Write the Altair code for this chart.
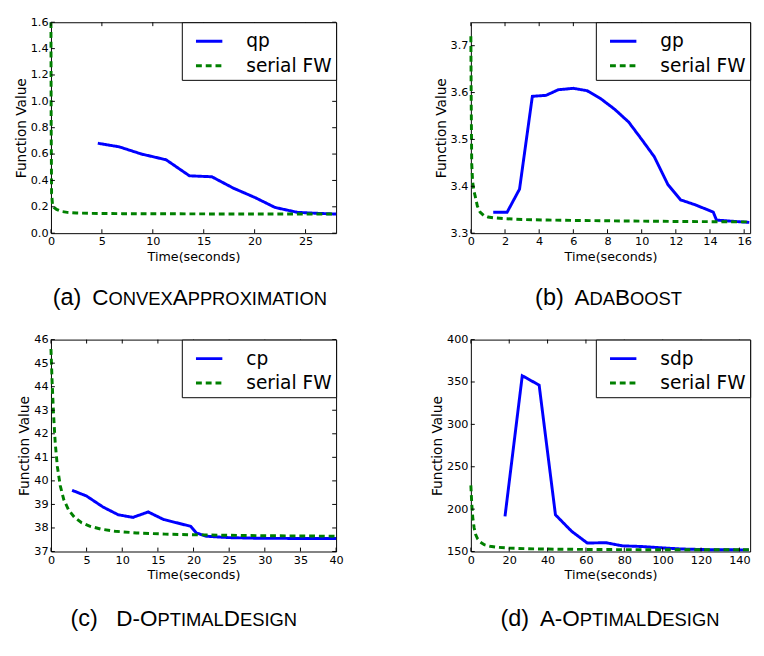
import altair as alt
import pandas as pd

# ---------------- data ----------------
# (a) ConvexApproximation
a_main_t = [4.6, 6.7, 8.9, 11.3, 13.6, 15.8, 17.9, 20.1, 22.0, 24.2, 26.3, 28.0]
a_main_v = [0.682, 0.655, 0.600, 0.557, 0.435, 0.428, 0.342, 0.268, 0.195, 0.158, 0.150, 0.145]
a_fw_t = [0, 0.02, 0.06, 0.15, 0.3, 0.55, 1.0, 1.6, 2.5, 4, 7, 11, 16, 22, 28]
a_fw_v = [1.6, 0.8, 0.3, 0.22, 0.195, 0.18, 0.165, 0.158, 0.153, 0.150, 0.148, 0.147, 0.146, 0.145, 0.145]

# (b) AdaBoost
b_main_t = [1.31, 2.12, 2.85, 3.6, 4.4, 5.12, 6.0, 6.8, 7.6, 8.43, 9.24, 10.0, 10.74,
            11.53, 12.28, 13.1, 14.19, 14.38, 15.46, 16.3]
b_main_v = [3.3445, 3.3445, 3.394, 3.592, 3.594, 3.606, 3.609, 3.604, 3.587, 3.564, 3.537,
            3.50, 3.463, 3.404, 3.371, 3.361, 3.345, 3.328, 3.325, 3.323]
b_fw_t = [0, 0.02, 0.05, 0.1, 0.18, 0.26, 0.38, 0.54, 0.75, 1.0, 1.4, 2, 3, 4.5, 6.5, 9, 12, 16.3]
b_fw_v = [3.72, 3.58, 3.45, 3.41, 3.39, 3.378, 3.358, 3.345, 3.338, 3.3345, 3.3325, 3.331,
          3.329, 3.328, 3.327, 3.326, 3.325, 3.324]

# (c) D-OptimalDesign
c_main_t = [2.96, 4.97, 7.3, 9.44, 11.5, 13.64, 15.8, 17.9, 19.6, 20.4, 21.76, 24.95, 29.5, 40]
c_main_v = [39.6, 39.36, 38.89, 38.56, 38.45, 38.68, 38.36, 38.2, 38.07, 37.79, 37.65, 37.59, 37.56, 37.55]
c_fw_t = [0, 0.15, 0.35, 0.6, 0.9, 1.3, 1.8, 2.5, 3.3, 4.3, 5.5, 7, 9, 12, 16, 20, 25, 30, 35, 40]
c_fw_v = [45.6, 44.3, 42.9, 41.6, 40.6, 39.8, 39.2, 38.75, 38.45, 38.22, 38.07, 37.95, 37.86,
          37.79, 37.74, 37.71, 37.69, 37.67, 37.66, 37.65]

# (d) A-OptimalDesign
d_main_t = [17.8, 26.8, 35.6, 44.1, 52.6, 60.7, 70.4, 78.9, 89, 99.3, 109.5, 123, 135, 145]
d_main_v = [191.5, 357.4, 346.3, 193.3, 173.7, 160, 160.4, 156.7, 155.9, 154.4, 153, 152.2, 152, 151.9]
d_fw_t = [0, 0.5, 1, 1.7, 2.5, 3.5, 5, 7, 10, 14, 20, 30, 45, 70, 100, 145]
d_fw_v = [228, 205, 190, 178, 170, 165, 161, 158, 156.2, 155, 154, 153.2, 152.7, 152.3, 152.1, 152.0]

series_main = ["qp", "gp", "cp", "sdp"]
series_fw = "serial FW"

a_xticks = [0, 5, 10, 15, 20, 25]
a_yticks = [0.0, 0.2, 0.4, 0.6, 0.8, 1.0, 1.2, 1.4, 1.6]
b_xticks = [0, 2, 4, 6, 8, 10, 12, 14, 16]
b_yticks = [3.3, 3.4, 3.5, 3.6, 3.7]
c_xticks = [0, 5, 10, 15, 20, 25, 30, 35, 40]
c_yticks = [37, 38, 39, 40, 41, 42, 43, 44, 45, 46]
d_xticks = [0, 20, 40, 60, 80, 100, 120, 140]
d_yticks = [150, 200, 250, 300, 350, 400]

# caption pieces: (text, kind) kind: L = label, B = big caps, S = small caps
cap_a = [("(a)", "L"), ("C", "B"), ("ONVEX", "S"), ("A", "B"), ("PPROXIMATION", "S")]
cap_b = [("(b)", "L"), ("A", "B"), ("DA", "S"), ("B", "B"), ("OOST", "S")]
cap_c = [("(c)", "L"), ("D-O", "B"), ("PTIMAL", "S"), ("D", "B"), ("ESIGN", "S")]
cap_d = [("(d)", "L"), ("A-O", "B"), ("PTIMAL", "S"), ("D", "B"), ("ESIGN", "S")]

# ---------------- style ----------------
BLUE = "#0000ff"
GREEN = "#008000"
AXF = "DejaVu Sans"
CAPF = "Liberation Sans"
SIZES = {"L": 24.0, "B": 23.0, "S": 18.8}

ARIAL = {"A": 667, "B": 667, "C": 722, "D": 722, "E": 667, "G": 778, "I": 278, "L": 556,
         "M": 833, "N": 722, "O": 778, "P": 667, "R": 722, "S": 667, "T": 611, "V": 667,
         "X": 667, "(": 333, ")": 333, "-": 333, "a": 556, "b": 556, "c": 500, "d": 556,
         " ": 278}


def text_w(s, size):
    return sum(ARIAL[ch] for ch in s) / 1000.0 * size


def caption_layers(pieces, center, ybase, gap):
    widths = [text_w(t, SIZES[k]) for t, k in pieces]
    total = sum(widths) + gap
    x = center - total / 2.0
    layers = []
    for i, ((t, k), w) in enumerate(zip(pieces, widths)):
        layers.append(
            alt.Chart(pd.DataFrame({"k": [0]}))
            .mark_text(text=t, font=CAPF, fontSize=SIZES[k], align="left",
                       baseline="alphabetic", color="black")
            .encode(x=alt.value(x), y=alt.value(ybase))
        )
        x += w
        if i == 0:
            x += gap
    return layers


def panel(name, mt, mv, ft, fv, xdom, ydom, xticks, yticks, yfmt, w, h,
          cap, cap_center, cap_y, cap_gap, right_ticks=True):
    dom = [name, series_fw]
    xs = alt.Scale(domain=xdom, nice=False, zero=False)
    ys = alt.Scale(domain=ydom, nice=False, zero=False)
    xa = alt.Axis(values=xticks, title="Time(seconds)")
    ya = alt.Axis(values=yticks, format=yfmt, title="Function Value")
    leg = alt.Legend(title=None, orient="top-right", offset=0, symbolType="stroke",
                     symbolSize=729, symbolStrokeWidth=3, labelFont=AXF, labelFontSize=19,
                     labelColor="black", padding=4.5, symbolOffset=8.5, labelOffset=23,
                     strokeColor="black", fillColor="white", rowPadding=0,
                     labelLimit=400)
    color = alt.Color("s:N", scale=alt.Scale(domain=dom, range=[BLUE, GREEN]), legend=leg)
    dash = alt.StrokeDash("s:N", scale=alt.Scale(domain=dom, range=[[1, 0], [6, 4]]), legend=leg)
    x = alt.X("t:Q", scale=xs, axis=xa)
    y = alt.Y("v:Q", scale=ys, axis=ya)

    df_m = pd.DataFrame({"t": mt, "v": mv, "s": [name] * len(mt)})
    df_f = pd.DataFrame({"t": ft, "v": fv, "s": [series_fw] * len(ft)})
    l_main = alt.Chart(df_m).mark_line(strokeWidth=3).encode(x=x, y=y, color=color, strokeDash=dash)
    l_fw = alt.Chart(df_f).mark_line(strokeWidth=3).encode(x=x, y=y, color=color, strokeDash=dash)

    xt = pd.DataFrame({"t": xticks})
    yt = pd.DataFrame({"v": yticks})
    tick_layers = [
        alt.Chart(xt).mark_rule(color="black", strokeWidth=1).encode(x=x, y=alt.value(h), y2=alt.value(h - 4)),
        alt.Chart(xt).mark_rule(color="black", strokeWidth=1).encode(x=x, y=alt.value(0), y2=alt.value(4)),
        alt.Chart(yt).mark_rule(color="black", strokeWidth=1).encode(y=y, x=alt.value(0), x2=alt.value(4)),
    ]
    if right_ticks:
        tick_layers.append(
            alt.Chart(yt).mark_rule(color="black", strokeWidth=1).encode(y=y, x=alt.value(w - 4), x2=alt.value(w))
        )
    layers = [l_main, l_fw] + tick_layers + caption_layers(cap, cap_center, cap_y, cap_gap)
    return alt.layer(*layers).properties(width=w, height=h)


W1, W2 = 292, 286
H1, H2 = 216, 217

pa = panel(series_main[0], a_main_t, a_main_v, a_fw_t, a_fw_v, [0, 28], [0, 1.6],
           a_xticks, a_yticks, ".1f", W1, H1, cap_a, 143, H1 + 74, 11)
pb = panel(series_main[1], b_main_t, b_main_v, b_fw_t, b_fw_v, [0, 16.35], [3.3, 3.75],
           b_xticks, b_yticks, ".1f", W2, H1, cap_b, 141, H1 + 74, 11, right_ticks=False)
pc = panel(series_main[2], c_main_t, c_main_v, c_fw_t, c_fw_v, [0, 40], [37, 46],
           c_xticks, c_yticks, "d", W1, H2, cap_c, 136, H2 + 76, 19)
pdd = panel(series_main[3], d_main_t, d_main_v, d_fw_t, d_fw_v, [0, 145.6], [150, 400],
            d_xticks, d_yticks, "d", W2, H2, cap_d, 142.5, H2 + 76, 11, right_ticks=False)

chart = (
    alt.concat(pa, pb, pc, pdd, columns=2, spacing={"row": 22, "column": 88})
    .resolve_scale(x="independent", y="independent", color="independent", strokeDash="independent")
    .resolve_legend(color="independent", strokeDash="independent")
    .properties(padding={"top": 0, "left": 6, "right": 0, "bottom": 0})
    .configure_view(stroke="black", strokeWidth=1)
    .configure_axis(grid=False, domain=False, ticks=False, tickSize=0, labelFont=AXF,
                    labelFontSize=11.5, labelColor="black", labelPadding=3, labelFlush=False,
                    titleFont=AXF, titleFontSize=13, titleFontWeight="normal", titleColor="black")
    .configure_axisX(titlePadding=3)
    .configure_axisY(titlePadding=2, titleFontSize=14)
)

chart.save("out.html", embed_options={"renderer": "svg", "actions": False})
